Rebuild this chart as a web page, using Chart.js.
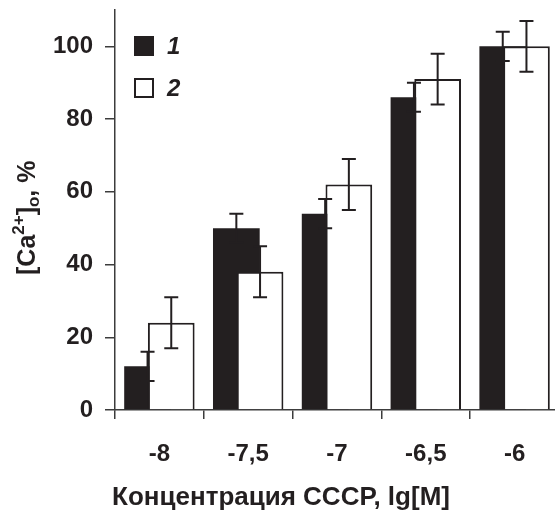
<!DOCTYPE html>
<html>
<head>
<meta charset="utf-8">
<script src="https://cdn.jsdelivr.net/npm/chart.js@4"></script>
<style>
  html, body { margin: 0; padding: 0; background: #fff; overflow: hidden; }
  #wrap { width: 559px; height: 511px; }
</style>
</head>
<body>
<div id="wrap"><canvas id="chart" width="559" height="511"></canvas></div>
<script>
const categories = ["-8", "-7,5", "-7", "-6,5", "-6"];
const series1 = [12, 50, 54, 86, 100];
const series1Err = [4, 4, 4, 4, 4];
const series2 = [24, 38, 62, 91, 100];
const series2Err = [7, 7, 7, 7, 7];
const yTicks = [0, 20, 40, 60, 80, 100];

const INK = "#231f20";
const AXIS = "#3c3c3c";
const FONT = "'Liberation Sans', Arial, sans-serif";

const drawErrorBars = (chart) => {
    const ctx = chart.ctx;
    const y = chart.scales.y;
    const errs = [series1Err, series2Err];
    ctx.save();
    ctx.strokeStyle = INK;
    ctx.lineWidth = 2;
    chart.data.datasets.forEach((ds, d) => {
        chart.getDatasetMeta(d).data.forEach((bar, i) => {
            const v = ds.data[i];
            const e = errs[d][i];
            const top = y.getPixelForValue(v + e);
            const bot = y.getPixelForValue(v - e);
            ctx.beginPath();
            ctx.moveTo(bar.x, top);
            ctx.lineTo(bar.x, bot);
            ctx.moveTo(bar.x - 7, top);
            ctx.lineTo(bar.x + 7, top);
            ctx.moveTo(bar.x - 7, bot);
            ctx.lineTo(bar.x + 7, bot);
            ctx.stroke();
        });
    });
    ctx.restore();
};

// white bars sit over the black ones, error bars on top of both
const drawOrder = {
    id: "drawOrder",
    beforeDatasetsDraw(chart) {
        chart.getDatasetMeta(0).controller.draw();
        chart.getDatasetMeta(1).controller.draw();
        drawErrorBars(chart);
        return false;
    },
};

const decorations = {
    id: "decorations",
    afterDraw(chart) {
        const ctx = chart.ctx;
        ctx.save();
        ctx.fillStyle = INK;

        // legend
        ctx.fillRect(134, 36, 20, 20);
        ctx.strokeStyle = INK;
        ctx.lineWidth = 2;
        ctx.strokeRect(135, 79, 18, 18);
        ctx.font = `italic bold 24px ${FONT}`;
        ctx.textBaseline = "middle";
        ctx.textAlign = "left";
        ctx.fillText(chart.data.datasets[0].label, 167, 47);
        ctx.fillText(chart.data.datasets[1].label, 167, 89);

        // x title
        ctx.font = `bold 26px ${FONT}`;
        ctx.textAlign = "center";
        ctx.textBaseline = "alphabetic";
        ctx.fillText("Концентрация CCCP, lg[M]", 281, 505);

        // y title, rotated, with super/subscripts
        ctx.translate(35, 275);
        ctx.rotate(-Math.PI / 2);
        ctx.textAlign = "left";
        const parts = [
            { t: "[Ca", size: 25, dy: 0 },
            { t: "2+", size: 17, dy: -11 },
            { t: "]", size: 25, dy: 0 },
            { t: "o", size: 17, dy: 4 },
            { t: ", %", size: 25, dy: 0 },
        ];
        let x = 0;
        parts.forEach((p) => {
            ctx.font = `bold ${p.size}px ${FONT}`;
            ctx.fillText(p.t, x, p.dy);
            x += ctx.measureText(p.t).width;
        });
        ctx.restore();
    },
};

new Chart(document.getElementById("chart"), {
    type: "bar",
    data: {
        labels: categories,
        datasets: [
            {
                label: "1",
                data: series1,
                backgroundColor: INK,
                borderColor: INK,
                borderWidth: 0,
            },
            {
                label: "2",
                data: series2,
                backgroundColor: "#ffffff",
                borderColor: INK,
                borderWidth: 2,
            },
        ],
    },
    options: {
        responsive: false,
        animation: false,
        categoryPercentage: 0.534,
        barPercentage: 1.97,
        layout: { padding: { top: 10, left: 0, right: 0, bottom: 0 } },
        plugins: {
            legend: { display: false },
            tooltip: { enabled: false },
        },
        scales: {
            x: {
                afterFit: (scale) => {
                    scale.height = 101;
                    scale.paddingLeft = 0;
                    scale.paddingRight = 0;
                },
                grid: {
                    offset: true,
                    drawOnChartArea: false,
                    drawTicks: true,
                    tickLength: 9,
                    color: AXIS,
                    lineWidth: 1.5,
                },
                border: { display: true, color: AXIS, width: 1.5 },
                ticks: {
                    color: INK,
                    font: { family: FONT, size: 24, weight: "bold" },
                    padding: 21,
                    maxRotation: 0,
                    autoSkip: false,
                },
            },
            y: {
                min: 0,
                max: 110,
                afterFit: (scale) => {
                    scale.width = 115;
                    scale.paddingTop = 0;
                    scale.paddingBottom = 0;
                },
                afterBuildTicks: (scale) => {
                    scale.ticks = yTicks.map((v) => ({ value: v }));
                },
                grid: {
                    drawOnChartArea: false,
                    drawTicks: true,
                    tickLength: 10,
                    color: AXIS,
                    lineWidth: 1.5,
                },
                border: { display: true, color: AXIS, width: 1.5 },
                ticks: {
                    color: INK,
                    font: { family: FONT, size: 24, weight: "bold" },
                    padding: 12,
                },
            },
        },
    },
    plugins: [drawOrder, decorations],
});
</script>
</body>
</html>
